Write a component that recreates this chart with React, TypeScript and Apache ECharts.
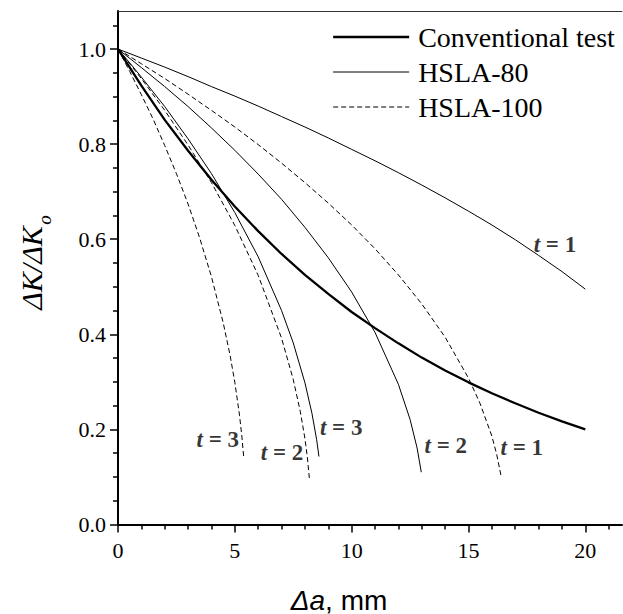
import React, { useEffect, useRef } from "react";
import * as echarts from "echarts";

// ---- data ----
const conventionalX = [0, 1, 2, 3, 4, 5, 6, 7, 8, 9, 10, 11, 12, 13, 14, 15, 16, 17, 18, 19, 20];
const conventionalY = [1.0, 0.923, 0.851, 0.786, 0.725, 0.669, 0.617, 0.569, 0.525, 0.485, 0.447, 0.413, 0.381, 0.351, 0.324, 0.299, 0.276, 0.255, 0.235, 0.217, 0.2];

const hsla80t1X = [0, 1, 2, 3, 4, 5, 6, 7, 8, 9, 10, 11, 12, 13, 14, 15, 16, 17, 18, 19, 20];
const hsla80t1Y = [1.0, 0.981, 0.962, 0.942, 0.921, 0.901, 0.88, 0.858, 0.836, 0.813, 0.789, 0.765, 0.74, 0.714, 0.687, 0.659, 0.63, 0.599, 0.566, 0.532, 0.495];

const hsla80t2X = [0, 1, 2, 3, 4, 5, 6, 7, 8, 9, 10, 11, 12, 12.5, 12.8, 12.98];
const hsla80t2Y = [1.0, 0.961, 0.921, 0.879, 0.834, 0.787, 0.737, 0.684, 0.625, 0.561, 0.489, 0.404, 0.295, 0.221, 0.161, 0.11];

const hsla80t3X = [0, 0.5, 1, 2, 3, 4, 5, 6, 7, 7.5, 8, 8.3, 8.5, 8.6];
const hsla80t3Y = [1.0, 0.971, 0.941, 0.879, 0.811, 0.738, 0.656, 0.563, 0.45, 0.382, 0.298, 0.234, 0.179, 0.143];

const hsla100t1X = [0, 1, 2, 3, 4, 5, 6, 7, 8, 9, 10, 11, 12, 13, 14, 15, 15.5, 16, 16.2, 16.4];
const hsla100t1Y = [1.0, 0.969, 0.938, 0.905, 0.871, 0.836, 0.799, 0.76, 0.719, 0.676, 0.63, 0.58, 0.525, 0.464, 0.394, 0.308, 0.254, 0.186, 0.149, 0.101];

const hsla100t2X = [0, 0.5, 1, 2, 3, 4, 5, 6, 7, 7.5, 7.8, 8.0, 8.1, 8.2];
const hsla100t2Y = [1.0, 0.969, 0.938, 0.871, 0.798, 0.719, 0.629, 0.524, 0.392, 0.305, 0.238, 0.181, 0.143, 0.092];

const hsla100t3X = [0, 0.5, 1, 1.5, 2, 2.5, 3, 3.5, 4, 4.5, 4.8, 5.0, 5.2, 5.3, 5.38];
const hsla100t3Y = [1.0, 0.953, 0.904, 0.853, 0.797, 0.738, 0.674, 0.602, 0.521, 0.425, 0.355, 0.299, 0.23, 0.186, 0.142];

// "t = n" annotations (data coordinates)
const tLabelX = [18.7, 4.27, 7.02, 9.55, 14.03, 17.28];
const tLabelY = [0.588, 0.178, 0.152, 0.204, 0.167, 0.161];
const tLabelText = ["1", "3", "2", "3", "2", "1"];

const xTicks = [0, 5, 10, 15, 20];
const xMinorTicks = [1, 2, 3, 4, 6, 7, 8, 9, 11, 12, 13, 14, 16, 17, 18, 19, 21];
const yTicks = [0, 0.2, 0.4, 0.6, 0.8, 1.0];
const yMinorTicks = [0.05, 0.1, 0.15, 0.25, 0.3, 0.35, 0.45, 0.5, 0.55, 0.65, 0.7, 0.75, 0.85, 0.9, 0.95, 1.05];

const legendNames = ["Conventional test", "HSLA-80", "HSLA-100"];

const SERIF = "Liberation Serif";
const SANS = "Liberation Sans";

const zip = (xs: number[], ys: number[]) => xs.map((x, i) => [x, ys[i]]);

const X_MIN = 0, X_MAX = 21.57, Y_MIN = 0, Y_MAX = 1.08;

export default function App() {
  const ref = useRef<HTMLDivElement>(null);
  useEffect(() => {
    if (!ref.current) return;
    const chart = echarts.init(ref.current, undefined, { renderer: "svg" });

    const thin = { color: "#000", width: 1, type: "solid" as const };
    const dashed = { color: "#000", width: 1, type: [5, 3] as any };
    const thick = { color: "#000", width: 2.3, type: "solid" as const };
    const legendStyles = [thick, thin, dashed];

    const lineSeries = (name: string, xs: number[], ys: number[], ls: any) => ({
      type: "line",
      name,
      data: zip(xs, ys),
      showSymbol: false,
      symbol: "none",
      smooth: false,
      lineStyle: ls,
      itemStyle: { color: "#000" },
      xAxisIndex: 0,
      yAxisIndex: 0,
      silent: true,
      z: 3,
    });

    const baseX = { type: "value", min: X_MIN, max: X_MAX, splitLine: { show: false } };
    const baseY = { type: "value", min: Y_MIN, max: Y_MAX, splitLine: { show: false } };

    const tickLabelStyle = {
      color: "#000",
      fontFamily: SERIF,
      fontSize: 22,
      fontWeight: "normal",
      fontStyle: "normal",
      opacity: 1,
    };

    chart.setOption({
      animation: false,
      backgroundColor: "#fff",
      textStyle: { fontFamily: SERIF, color: "#000" },
      grid: { left: 118, top: 11, right: 1, bottom: 89.5, containLabel: false },
      legend: {
        data: legendNames.map((n, i) => ({ name: n, lineStyle: { ...legendStyles[i] }, itemStyle: { opacity: 0 } })),
        orient: "vertical",
        left: 332,
        top: 23,
        padding: 0,
        itemWidth: 76,
        itemHeight: 14,
        itemGap: 7,
        selectedMode: false,
        itemStyle: { opacity: 0 },
        textStyle: { fontFamily: SERIF, fontSize: 28, color: "#000", padding: [0, 0, 0, 4] },
      },
      xAxis: [
        {
          ...baseX,
          position: "bottom",
          axisLine: { show: true, onZero: false, lineStyle: { color: "#000", width: 2 } },
          axisTick: { show: true, inside: false, length: 8, lineStyle: { color: "#000", width: 1.5 }, customValues: xTicks },
          axisLabel: { show: true, margin: 15, ...tickLabelStyle, customValues: xTicks },
        },
        {
          ...baseX,
          position: "bottom",
          axisLine: { show: false },
          axisTick: { show: true, inside: false, length: 5, lineStyle: { color: "#000", width: 1.5 }, customValues: xMinorTicks },
          axisLabel: { show: false },
        },
        {
          ...baseX,
          position: "top",
          axisLine: { show: true, onZero: false, lineStyle: { color: "#333", width: 1 } },
          axisTick: { show: false },
          axisLabel: { show: false },
        },
      ],
      yAxis: [
        {
          ...baseY,
          position: "left",
          axisLine: { show: true, onZero: false, lineStyle: { color: "#000", width: 2 } },
          axisTick: { show: true, inside: false, length: 8, lineStyle: { color: "#000", width: 1.5 }, customValues: yTicks },
          axisLabel: {
            show: true,
            margin: 12,
            ...tickLabelStyle,
            customValues: yTicks,
            formatter: (v: number) => v.toFixed(1),
          },
        },
        {
          ...baseY,
          position: "left",
          axisLine: { show: false },
          axisTick: { show: true, inside: false, length: 5, lineStyle: { color: "#000", width: 1.5 }, customValues: yMinorTicks },
          axisLabel: { show: false },
        },
      ],
      series: [
        lineSeries("Conventional test", conventionalX, conventionalY, thick),
        lineSeries("HSLA-80", hsla80t1X, hsla80t1Y, thin),
        lineSeries("HSLA-80", hsla80t2X, hsla80t2Y, thin),
        lineSeries("HSLA-80", hsla80t3X, hsla80t3Y, thin),
        lineSeries("HSLA-100", hsla100t1X, hsla100t1Y, dashed),
        lineSeries("HSLA-100", hsla100t2X, hsla100t2Y, dashed),
        lineSeries("HSLA-100", hsla100t3X, hsla100t3Y, dashed),
        {
          type: "scatter",
          name: "labels",
          xAxisIndex: 0,
          yAxisIndex: 0,
          symbolSize: 0,
          silent: true,
          itemStyle: { color: "#000" },
          data: tLabelX.map((x, i) => [x, tLabelY[i], tLabelText[i]]),
          label: {
            show: true,
            position: "inside",
            color: "#000",
            textBorderWidth: 0,
            textBorderColor: "transparent",
            fontFamily: SERIF,
            fontSize: 22,
            fontWeight: "bold",
            formatter: (p: any) => "{t|t}{n| = " + p.data[2] + "}",
            rich: {
              t: { fontFamily: SERIF, fontSize: 23, fontStyle: "italic", fontWeight: "bold", color: "#000", textBorderWidth: 0 },
              n: { fontFamily: SERIF, fontSize: 23, fontWeight: "bold", color: "#000", textBorderWidth: 0 },
            },
          },
          z: 5,
        },
      ],
      graphic: [
        {
          type: "text",
          x: 31,
          y: 268,
          rotation: Math.PI / 2,
          style: {
            text: "ΔK/ΔK",
            fontFamily: SERIF,
            fontStyle: "italic",
            fontSize: 30,
            fill: "#000",
            align: "center",
            verticalAlign: "middle",
          },
        },
        {
          type: "text",
          x: 44,
          y: 220,
          rotation: Math.PI / 2,
          style: {
            text: "o",
            fontFamily: SERIF,
            fontStyle: "italic",
            fontSize: 19,
            fill: "#000",
            align: "center",
            verticalAlign: "middle",
          },
        },
        {
          type: "text",
          x: 339,
          y: 600,
          style: {
            text: "{i|Δa}{n|, mm}",
            rich: {
              i: { fontFamily: SANS, fontStyle: "italic", fontSize: 28, fill: "#000" },
              n: { fontFamily: SANS, fontSize: 28, fill: "#000" },
            },
            align: "center",
            verticalAlign: "middle",
          },
        },
      ],
    });

    return () => chart.dispose();
  }, []);

  return (
    <div
      ref={ref}
      style={{ position: "fixed", left: 0, top: 0, width: 623, height: 614, background: "#fff" }}
    />
  );
}
